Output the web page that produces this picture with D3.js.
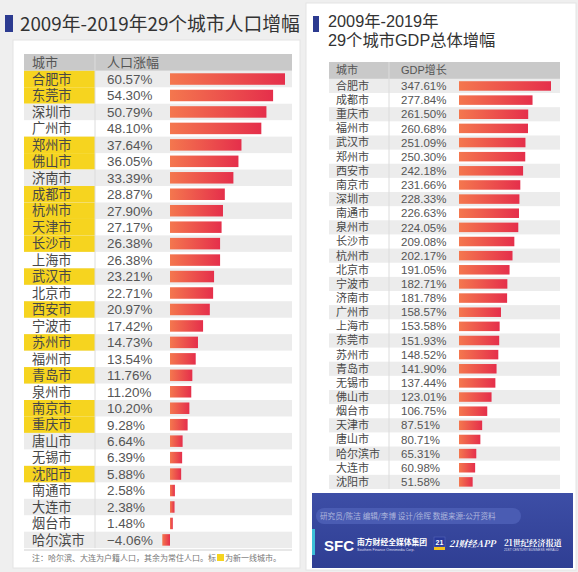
<!DOCTYPE html>
<html><head><meta charset="utf-8">
<script src="https://cdn.jsdelivr.net/npm/d3@7"></script>
<style>
html,body{margin:0;padding:0;background:#efefef;}
svg{display:block;font-family:"Liberation Sans","Noto Sans CJK SC",sans-serif;}
</style></head>
<body>
<svg id="chart" width="578" height="572"></svg>
<script>
const popTitle = "2009年-2019年29个城市人口增幅";
const gdpTitle = ["2009年-2019年", "29个城市GDP总体增幅"];
const popHeaders = ["城市", "人口涨幅"];
const gdpHeaders = ["城市", "GDP增长"];
const popCities = ["合肥市","东莞市","深圳市","广州市","郑州市","佛山市","济南市","成都市","杭州市","天津市","长沙市","上海市","武汉市","北京市","西安市","宁波市","苏州市","福州市","青岛市","泉州市","南京市","重庆市","唐山市","无锡市","沈阳市","南通市","大连市","烟台市","哈尔滨市"];
const popGrowth = [60.57,54.30,50.79,48.10,37.64,36.05,33.39,28.87,27.90,27.17,26.38,26.38,23.21,22.71,20.97,17.42,14.73,13.54,11.76,11.20,10.20,9.28,6.64,6.39,5.88,2.58,2.38,1.48,-4.06];
const newTier1 = ["合肥市","东莞市","郑州市","佛山市","成都市","杭州市","天津市","长沙市","武汉市","西安市","苏州市","青岛市","南京市","重庆市","沈阳市"];
const gdpCities = ["合肥市","成都市","重庆市","福州市","武汉市","郑州市","西安市","南京市","深圳市","南通市","泉州市","长沙市","杭州市","北京市","宁波市","济南市","广州市","上海市","东莞市","苏州市","青岛市","无锡市","佛山市","烟台市","天津市","唐山市","哈尔滨市","大连市","沈阳市"];
const gdpGrowth = [347.61,277.84,261.50,260.68,251.09,250.30,242.18,231.66,228.33,226.63,224.05,209.08,202.17,191.05,182.71,181.78,158.57,153.58,151.93,148.52,141.90,137.44,123.01,106.75,87.51,80.71,65.31,60.98,51.58];
const noteParts = ["注：哈尔滨、大连为户籍人口，其余为常住人口。标", "为新一线城市。"];
const creditText = "研究员/陈洁 编辑/李博 设计/徐晖 数据来源:公开资料";

const svg = d3.select("#chart");
const fmt = v => d3.format(".2f")(v) + "%";

const defs = svg.append("defs");
const grad = defs.append("linearGradient").attr("id","barGrad").attr("x1","0").attr("x2","1").attr("y1","0").attr("y2","0");
grad.append("stop").attr("offset","0").attr("stop-color","#f4774e");
grad.append("stop").attr("offset","1").attr("stop-color","#e52f4b");
const fgrad = defs.append("linearGradient").attr("id","footGrad").attr("x1","0").attr("x2","0").attr("y1","0").attr("y2","1");
fgrad.append("stop").attr("offset","0").attr("stop-color","#3d4ea6");
fgrad.append("stop").attr("offset","1").attr("stop-color","#2f3e93");

// cards
svg.append("rect").attr("x",13).attr("y",40).attr("width",287).attr("height",528).attr("fill","#fff").attr("stroke","#e4e4e4");
svg.append("rect").attr("x",306).attr("y",3).attr("width",270).attr("height",567).attr("fill","#fff").attr("stroke","#e4e4e4");

// ---------- LEFT PANEL ----------
svg.append("rect").attr("x",5).attr("y",15).attr("width",8).attr("height",17).attr("fill","#2c3b90");
svg.append("text").attr("x",20).attr("y",31).attr("font-size",18.8).attr("fill","#333")
  .attr("font-family","'Noto Sans CJK SC',sans-serif").text(popTitle);

const L = {x0:24, x1:292, nameX:32, valX:107, div:95};
const yL = d3.scaleBand().domain(popCities).range([70.8, 70.8 + 29*16.46]).paddingInner(0);
const xL = d3.scaleLinear().domain([0, 60.57]).range([170, 285]);

svg.append("rect").attr("x",L.x0).attr("y",54).attr("width",L.x1-L.x0).attr("height",16.8).attr("fill","#c9c9c9");
svg.append("text").attr("x",L.nameX).attr("y",62.5).attr("dy","0.35em").attr("font-size",13).attr("fill","#555").text(popHeaders[0]);
svg.append("text").attr("x",L.valX).attr("y",62.5).attr("dy","0.35em").attr("font-size",13).attr("fill","#555").text(popHeaders[1]);

const gL = svg.append("g");
popCities.forEach((c,i)=>{
  const y = yL(c);
  if (i % 2 === 0) gL.append("rect").attr("x",L.x0).attr("y",y).attr("width",L.x1-L.x0).attr("height",yL.bandwidth()).attr("fill","#ececec");
  if (newTier1.includes(c)) gL.append("rect").attr("x",L.x0).attr("y",y).attr("width",L.div-L.x0).attr("height",yL.bandwidth()).attr("fill","#f6d41f");
});
svg.append("line").attr("x1",L.div).attr("x2",L.div).attr("y1",54).attr("y2",yL.range()[1]).attr("stroke","#dcdcdc").attr("stroke-width",1);
popCities.forEach((c,i)=>{
  const cy = yL(c) + yL.bandwidth()/2;
  const v = popGrowth[i];
  gL.append("text").attr("x",L.nameX).attr("y",cy).attr("dy","0.36em").attr("font-size",13.2).attr("fill","#474747").text(c);
  gL.append("text").attr("x",L.valX).attr("y",cy).attr("dy","0.36em").attr("font-size",13.4).attr("fill","#555").text(fmt(v));
  const bh = 11.5;
  gL.append("rect").attr("x",Math.min(xL(0),xL(v))).attr("y",cy-bh/2)
    .attr("width",Math.abs(xL(v)-xL(0))).attr("height",bh).attr("fill","url(#barGrad)");
});
svg.append("line").attr("x1",L.x0).attr("x2",L.x1).attr("y1",550).attr("y2",550).attr("stroke","#cfcfcf");
const note = svg.append("text").attr("x",L.nameX).attr("y",561).attr("font-size",8).attr("fill","#777")
  .attr("font-family","'Noto Sans CJK SC',sans-serif");
note.append("tspan").text(noteParts[0]);
note.append("tspan").attr("dx",9).text(noteParts[1]);
svg.append("rect").attr("x",L.nameX + 23*8 + 1).attr("y",554).attr("width",7).attr("height",7).attr("fill","#f6d41f");

// ---------- RIGHT PANEL ----------
svg.append("rect").attr("x",313).attr("y",16).attr("width",6).attr("height",16).attr("fill","#2c3b90");
const rt = svg.append("text").attr("font-size",16.3).attr("fill","#333");
rt.append("tspan").attr("x",328).attr("y",27).text(gdpTitle[0]);
rt.append("tspan").attr("x",328).attr("y",45.5).text(gdpTitle[1]);

const R = {x0:329, x1:560, nameX:336, valX:401, div:389};
const yR = d3.scaleBand().domain(gdpCities).range([78.9, 78.9 + 29*14.14]).paddingInner(0);
const xR = d3.scaleLinear().domain([0, 347.61]).range([459, 551]);

svg.append("rect").attr("x",R.x0).attr("y",62).attr("width",R.x1-R.x0).attr("height",16.9).attr("fill","#c9c9c9");
svg.append("text").attr("x",R.nameX).attr("y",70.5).attr("dy","0.35em").attr("font-size",11).attr("fill","#555").text(gdpHeaders[0]);
svg.append("text").attr("x",R.valX).attr("y",70.5).attr("dy","0.35em").attr("font-size",11).attr("fill","#555").text(gdpHeaders[1]);

const gR = svg.append("g");
gdpCities.forEach((c,i)=>{
  if (i % 2 === 0) gR.append("rect").attr("x",R.x0).attr("y",yR(c)).attr("width",R.x1-R.x0).attr("height",yR.bandwidth()).attr("fill","#ececec");
});
svg.append("line").attr("x1",R.div).attr("x2",R.div).attr("y1",62).attr("y2",yR.range()[1]).attr("stroke","#dcdcdc");
gdpCities.forEach((c,i)=>{
  const cy = yR(c) + yR.bandwidth()/2;
  const v = gdpGrowth[i];
  gR.append("text").attr("x",R.nameX).attr("y",cy).attr("dy","0.36em").attr("font-size",11).attr("fill","#474747").text(c);
  gR.append("text").attr("x",R.valX).attr("y",cy).attr("dy","0.36em").attr("font-size",11.5).attr("fill","#555").text(fmt(v));
  const bh = 9.5;
  gR.append("rect").attr("x",xR(0)).attr("y",cy-bh/2).attr("width",xR(v)-xR(0)).attr("height",bh).attr("fill","url(#barGrad)");
});

// footer
svg.append("rect").attr("x",312).attr("y",493).attr("width",261).attr("height",75).attr("fill","url(#footGrad)");
svg.append("rect").attr("x",312).attr("y",529).attr("width",3).attr("height",26).attr("fill","#3cc0d8");
svg.append("rect").attr("x",316).attr("y",508).attr("width",205).attr("height",16).attr("rx",8).attr("fill","#4a5cb3");
svg.append("text").attr("x",320).attr("y",519).attr("font-size",7.6).attr("fill","#aeb6dc")
  .attr("font-family","'Noto Sans CJK SC',sans-serif").text(creditText);
svg.append("text").attr("x",324).attr("y",551).attr("font-size",15).attr("font-weight","bold")
  .attr("fill","#fff").attr("font-family","'Liberation Sans',sans-serif").text("SFC");
svg.append("text").attr("x",357).attr("y",545).attr("font-size",7.8).attr("font-weight","bold").attr("fill","#fff")
  .attr("font-family","'Noto Sans CJK SC',sans-serif").text("南方财经全媒体集团");
svg.append("text").attr("x",357).attr("y",551).attr("font-size",3.6).attr("fill","#dde")
  .text("Southern Finance Omnimedia Corp.");
svg.append("rect").attr("x",434).attr("y",537).attr("width",11).attr("height",10).attr("fill","#2a3a9a").attr("stroke","#5b6cc0").attr("stroke-width",0.5);
svg.append("rect").attr("x",434).attr("y",547).attr("width",11).attr("height",3).attr("fill","#f3c21d");
svg.append("text").attr("x",439.5).attr("y",545).attr("text-anchor","middle").attr("font-size",7).attr("font-weight","bold").attr("fill","#fff").text("21");
svg.append("text").attr("x",449).attr("y",547).attr("font-size",9).attr("font-weight","bold").attr("font-style","italic").attr("fill","#fff")
  .attr("font-family","'Noto Serif CJK SC','Noto Sans CJK SC',serif").text("21财经APP");
svg.append("text").attr("x",504).attr("y",546).attr("font-size",8.2).attr("font-weight","bold").attr("fill","#fff")
  .attr("font-family","'Noto Serif CJK SC','Noto Sans CJK SC',serif").text("21世纪经济报道");
svg.append("text").attr("x",504).attr("y",551).attr("font-size",3.2).attr("fill","#dde").text("21ST CENTURY BUSINESS HERALD");
</script>
</body></html>
